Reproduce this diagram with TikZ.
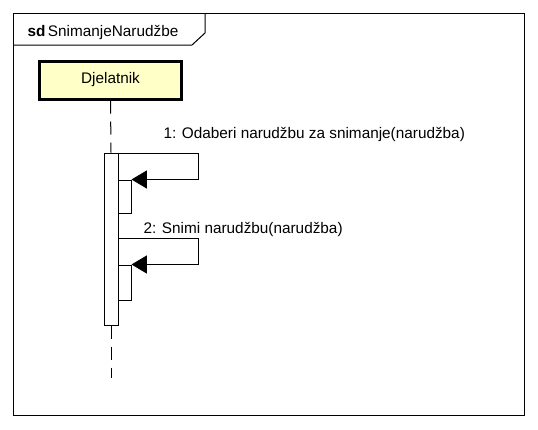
\documentclass[tikz,border=0pt]{standalone}
\usepackage{fontspec}
\setmainfont{Liberation Sans}
\usetikzlibrary{arrows.meta,positioning}
\definecolor{actorfill}{RGB}{255,255,200}

\begin{document}
\begin{tikzpicture}[x=0.75pt,y=-0.75pt,line width=0.75pt,font=\fontsize{11.5}{13}\selectfont]
\tikzset{actorbox/.style={draw,line width=2.25pt,fill=actorfill,minimum width=106.5pt,minimum height=28.5pt,inner sep=0pt},
         actbar/.style={draw,fill=white,minimum width=10.5pt,inner sep=0pt},
         lifeline/.style={dash pattern=on 9.75pt off 6pt},
         msg/.style={-{Triangle[length=11.5pt,width=13.5pt]}},
         msglabel/.style={anchor=base west,inner sep=0pt}}

% frame
\useasboundingbox (0,0) rectangle (538,429);
\draw (13,13) rectangle (524,415);
\draw (13,45) -- (192,45) -- (205,33) -- (205,13);
\node[anchor=base west,inner sep=0pt] (title) at (27,36) {\textbf{sd}\,SnimanjeNarudžbe};

% actor and lifeline
\node[actorbox] (actor) at (110.5,80) {Djelatnik};
\node[actbar,minimum height=129pt] (act) at (111,239) {};
\coordinate (lifeend) at (111,378);
\draw[lifeline] (actor.south) -- (act.north);
\draw[lifeline] (act.south) -- (lifeend);

% nested activations
\node[actbar,minimum width=9.75pt,minimum height=24.75pt] (nest1) at (124.5,196.5) {};
\node[actbar,minimum width=9.75pt,minimum height=26.25pt] (nest2) at (124.5,282.5) {};

% self messages
\draw[msg] (act.east |- 0,153) -- (198,153) |- (nest1.north east);
\node[msglabel] (lab1) at (163,138) {1: Odaberi narudžbu za snimanje(narudžba)};
\draw[msg] (act.east |- 0,238) -- (198,238) |- (nest2.north east);
\node[msglabel] (lab2) at (143,233) {2: Snimi narudžbu(narudžba)};
\end{tikzpicture}
\end{document}
